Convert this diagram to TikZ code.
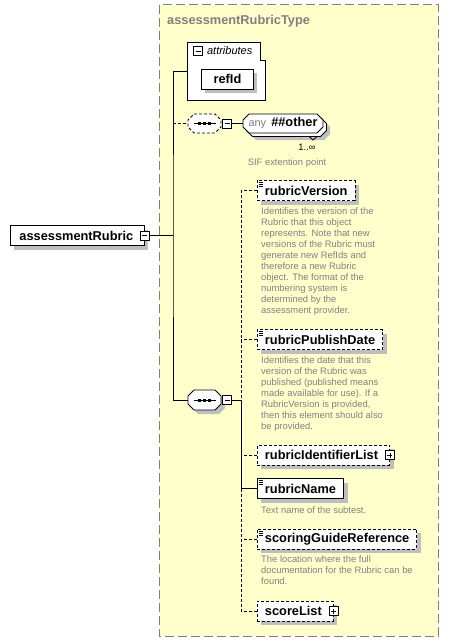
\documentclass[tikz,border=0pt]{standalone}
\usepackage{fontspec}
\setmainfont{Liberation Sans}
\usetikzlibrary{shapes,positioning,shadows}
\definecolor{typebg}{RGB}{255,255,204}
\definecolor{frame}{RGB}{128,128,128}
\definecolor{shade}{RGB}{190,190,190}
\definecolor{doc}{RGB}{128,128,128}
\newcommand{\elfont}{\fontsize{12.8}{14}\selectfont\bfseries}
\newcommand{\docfont}{\fontsize{9.4}{11}\selectfont}
% octagon outline from (x1,y1) to (x2,y2)
\newcommand{\octo}[5][]{%
  \draw[line width=0.8pt, fill=white, #1] (#2+6,#3) -- (#4-6,#3) -- (#4,#3+6) -- (#4,#5-6)
    -- (#4-6,#5) -- (#2+6,#5) -- (#2,#5-6) -- (#2,#3+6) -- cycle;}
\tikzset{
  elem/.style={rectangle, draw, fill=white, line width=0.9pt, minimum height=20pt,
    inner xsep=7.5pt, inner ysep=0pt, anchor=west, font=\elfont,
    drop shadow={shadow xshift=4pt, shadow yshift=-4pt, fill=shade, opacity=1}},
  optelem/.style={elem, dash pattern=on 3pt off 2pt},
  docicon/.style={path picture={\foreach \k in {2,4,6}
    \draw[solid, line width=0.7pt] ([shift={(1.5pt,-\k pt)}]path picture bounding box.north west) -- ++(4.5pt,0);}},
  minusbox/.style={rectangle, draw, solid, fill=white, line width=0.8pt, minimum size=9pt, inner sep=0pt,
    path picture={\draw[line width=0.8pt] ([xshift=2pt]path picture bounding box.west) -- ([xshift=-2pt]path picture bounding box.east);}},
  plusbox/.style={rectangle, draw, solid, fill=white, line width=0.8pt, minimum size=9pt, inner sep=0pt,
    path picture={\draw[line width=0.8pt] ([xshift=2pt]path picture bounding box.west) -- ([xshift=-2pt]path picture bounding box.east);
      \draw[line width=0.8pt] ([yshift=2pt]path picture bounding box.south) -- ([yshift=-2pt]path picture bounding box.north);}},
  seq/.style={rectangle, minimum width=33pt, minimum height=20pt, inner sep=0pt,
    path picture={\draw[line width=1pt] ([xshift=-11pt]path picture bounding box.center) -- ([xshift=11pt]path picture bounding box.center);
      \foreach \d in {-5,0,5} \fill ([shift={(\d pt-1.5pt,-1.5pt)}]path picture bounding box.center) rectangle ++(3pt,3pt);}},
  note/.style={text=doc, font=\docfont, align=left, inner sep=0pt},
  link/.style={line width=0.9pt},
  optlink/.style={line width=0.9pt, dash pattern=on 3pt off 2pt}
}
\begin{document}
\begin{tikzpicture}[x=1pt, y=-1pt]
\useasboundingbox (0,0) rectangle (449,642);
% type frame
\draw[frame, fill=typebg, line width=1pt, dash pattern=on 9pt off 4pt] (159,5) rectangle (438,636);
\node[anchor=west, text=frame, font=\elfont, inner sep=0pt] (typename) at (167,21) {assessmentRubricType};

% attributes
\draw[fill=white, line width=0.9pt] (187,42) -- (260,42) -- (260,60) -- (265,60) -- (265,100) -- (187,100) -- cycle;
\coordinate (attrw) at (187,71);
\node[minusbox] (attrpm) at (198,51) {};
\node[right=4pt of attrpm, inner sep=0pt, font=\fontsize{11}{13}\selectfont\itshape] (attrlabel) {attributes};
\node[elem, minimum width=52pt] (refid) at (201,79) {refId};

% outlines
\octo[dash pattern=on 3pt off 2pt]{188}{114}{221}{133}
\octo[fill=shade, draw=none]{250}{121}{330}{140}
\octo{246.5}{117.5}{326.5}{136.5}
\draw[line width=0.8pt] (309,136.5) -- (313,140) -- (317,136.5);
\octo{243}{114}{323}{133}
\octo[fill=shade, draw=none]{192}{394}{225}{414}
\octo{188}{390}{221}{410}

% nodes
\node[elem, inner xsep=9pt] (main) at (10,235.5) {assessmentRubric\hspace*{2pt}};
\node[minusbox] (mainpm) at (main.east) {};
\coordinate (spine) at (173,235.5);

\node[seq, minimum height=19pt] (seqA) at (204.5,123.5) {};
\node[minusbox, right=1pt of seqA] (seqApm) {};
\node[inner sep=0pt] (any) at (283,123.5) {{\fontsize{11}{13}\selectfont\color{doc}any}\hspace{5pt}{\elfont\#\#other}};
\coordinate (anyw) at (243,123.5);
\node[font=\docfont] (occurs) at (307,147) {1..∞};
\node[note] (anynote) at (287,163) {SIF extention point};

\node[seq] (seqB) at (204.5,400) {};
\node[minusbox, right=1pt of seqB] (seqBpm) {};
\coordinate (kids) at (241,400);

\node[optelem, docicon] (rv) at (257,190.5) {rubricVersion};
\node[note, below right=7pt and 4pt of rv.south west] (rvnote) {Identifies the version of the\\Rubric that this object\\represents. Note that new\\versions of the Rubric must\\generate new RefIds and\\therefore a new Rubric\\object. The format of the\\numbering system is\\determined by the\\assessment provider.};

\node[optelem, docicon] (rpd) at (257,339.5) {rubricPublishDate};
\node[note, below right=7pt and 4pt of rpd.south west] (rpdnote) {Identifies the date that this\\version of the Rubric was\\published (published means\\made available for use). If a\\RubricVersion is provided,\\then this element should also\\be provided.};

\node[optelem] (ril) at (257,455) {rubricIdentifierList\hspace*{4pt}};
\node[plusbox] (rilpm) at (ril.east) {};

\node[elem, docicon] (rn) at (257,488.5) {rubricName};
\node[note, below right=8pt and 4pt of rn.south west] (rnnote) {Text name of the subtest.};

\node[optelem, docicon] (sgr) at (257,539) {scoringGuideReference};
\node[note, below right=6pt and 4pt of sgr.south west] (sgrnote) {The location where the full\\documentation for the Rubric can be\\found.};

\node[optelem] (sl) at (257,611) {scoreList\hspace*{4pt}};
\node[plusbox] (slpm) at (sl.east) {};

% edges
\draw[link] (mainpm.east) -- (spine);
\draw[link] (attrw) -| (spine) |- (seqB.west);
\draw[optlink] (seqA.west -| spine) -- (seqA.west);
\draw[link] (seqApm.east) -- (anyw);
\draw[link] (seqBpm.east) -- (kids);
\draw[optlink] (rv.west) -| (kids);
\draw[optlink] (rpd.west) -- (rpd.west -| kids);
\draw[link] (kids) |- (rn.west);
\draw[optlink] (ril.west) -- (ril.west -| kids);
\draw[optlink] (rn.west -| kids) |- (sl.west);
\draw[optlink] (sgr.west) -- (sgr.west -| kids);
\end{tikzpicture}
\end{document}
